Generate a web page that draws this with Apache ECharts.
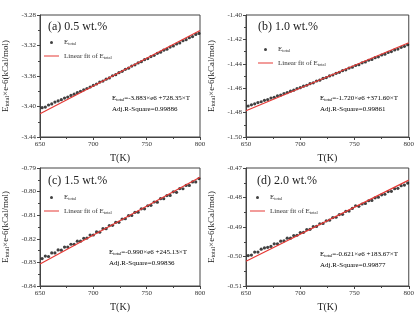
<!DOCTYPE html>
<html>
<head>
<meta charset="utf-8">
<script src="https://cdn.jsdelivr.net/npm/echarts@6/dist/echarts.min.js"></script>
<style>
    html, body { margin: 0; padding: 0; background: #fff; }
    #main { width: 417px; height: 313px; }
</style>
</head>
<body>
<div id="main"></div>
<script>
    // temperatures (K) shared by all four panels
    var temps = [652, 655, 658, 661, 664, 667, 670, 673, 676, 679, 682, 685, 688, 691, 694, 697, 700, 703, 706, 709,
        712, 715, 718, 721, 724, 727, 730, 733, 736, 739, 742, 745, 748, 751, 754, 757, 760, 763, 766, 769,
        772, 775, 778, 781, 784, 787, 790, 793, 796, 799];

    // E_total x e-6 (kCal/mol)
    var eA = [-3.4016, -3.4008, -3.3980, -3.3966, -3.3942, -3.3927, -3.3910, -3.3890, -3.3877, -3.3855,
        -3.3838, -3.3819, -3.3801, -3.3781, -3.3764, -3.3744, -3.3724, -3.3705, -3.3680, -3.3666,
        -3.3642, -3.3625, -3.3597, -3.3582, -3.3557, -3.3539, -3.3512, -3.3497, -3.3470, -3.3454,
        -3.3428, -3.3412, -3.3386, -3.3371, -3.3345, -3.3329, -3.3303, -3.3288, -3.3261, -3.3248,
        -3.3221, -3.3206, -3.3180, -3.3166, -3.3138, -3.3124, -3.3097, -3.3083, -3.3055, -3.3041];
    var eB = [-1.4746, -1.4736, -1.4728, -1.4718, -1.4711, -1.4699, -1.4693, -1.4681, -1.4674, -1.4662,
        -1.4656, -1.4644, -1.4636, -1.4624, -1.4616, -1.4604, -1.4596, -1.4583, -1.4576, -1.4563,
        -1.4556, -1.4541, -1.4534, -1.4520, -1.4513, -1.4499, -1.4492, -1.4478, -1.4470, -1.4456,
        -1.4449, -1.4435, -1.4428, -1.4414, -1.4407, -1.4392, -1.4385, -1.4371, -1.4364, -1.4350,
        -1.4343, -1.4328, -1.4321, -1.4307, -1.4300, -1.4286, -1.4279, -1.4265, -1.4257, -1.4243];
    var eC = [-0.8284, -0.8273, -0.8275, -0.8260, -0.8260, -0.8247, -0.8248, -0.8235, -0.8235, -0.8223,
        -0.8223, -0.8210, -0.8210, -0.8198, -0.8197, -0.8184, -0.8184, -0.8171, -0.8172, -0.8157,
        -0.8157, -0.8144, -0.8143, -0.8130, -0.8130, -0.8116, -0.8115, -0.8102, -0.8101, -0.8088,
        -0.8087, -0.8073, -0.8073, -0.8060, -0.8058, -0.8044, -0.8045, -0.8030, -0.8030, -0.8017,
        -0.8016, -0.8001, -0.8003, -0.7987, -0.7988, -0.7974, -0.7974, -0.7959, -0.7959, -0.7945];
    var eD = [-0.4997, -0.4995, -0.4985, -0.4985, -0.4975, -0.4971, -0.4969, -0.4966, -0.4957, -0.4957,
        -0.4948, -0.4947, -0.4938, -0.4938, -0.4929, -0.4928, -0.4919, -0.4918, -0.4909, -0.4908,
        -0.4899, -0.4898, -0.4889, -0.4888, -0.4879, -0.4877, -0.4868, -0.4867, -0.4858, -0.4857,
        -0.4847, -0.4846, -0.4837, -0.4828, -0.4830, -0.4822, -0.4820, -0.4811, -0.4810, -0.4801,
        -0.4799, -0.4791, -0.4789, -0.4780, -0.4779, -0.4770, -0.4769, -0.4760, -0.4758, -0.4751];

    // linear fit end points at 650 K and 800 K
    var fitT = [650, 800];
    var fitA = [-3.4096, -3.3003];
    var fitB = [-1.4785, -1.4227];
    var fitC = [-0.8307, -0.7939];
    var fitD = [-0.5016, -0.4741];

    var titles = ['(a) 0.5 wt.%', '(b) 1.0 wt.%', '(c) 1.5 wt.%', '(d) 2.0 wt.%'];
    var equations = ['-3.883×e6 +728.35×T', '-1.720×e6 +371.60×T', '-0.990×e6 +245.13×T', '-0.621×e6 +183.67×T'];
    var rSquares = ['0.99886', '0.99861', '0.99836', '0.99877'];
    var yMins = [-3.44, -1.50, -0.84, -0.51];
    var yMaxs = [-3.28, -1.40, -0.79, -0.47];
    var ySteps = [0.04, 0.02, 0.01, 0.01];

    var font = "'Liberation Serif', 'Times New Roman', serif";
    var red = '#e53935';
    var grids = [
        {left: 39, top: 15, width: 161, height: 122},
        {left: 246, top: 15, width: 165, height: 122},
        {left: 39, top: 168, width: 161, height: 123},
        {left: 246, top: 168, width: 165, height: 123}
    ];
    // text positions per panel: title, legend, equation
    var titlePos = [[43, 16], [253, 16], [43, 170], [252, 170]];
    var legendPos = [[44, 39], [258, 46], [44, 194], [250, 194]];
    var eqPos = [[112, 93], [320, 93], [109, 247], [320, 249]];

    var scatterData = [eA, eB, eC, eD];
    var fitData = [fitA, fitB, fitC, fitD];

    function pairs(xs, ys) {
        var out = [];
        for (var i = 0; i < xs.length; i++) {
            out.push([xs[i], ys[i]]);
        }
        return out;
    }

    var sub = {
        n: {fontFamily: font, fontSize: 7, color: '#333'},
        s: {fontFamily: font, fontSize: 4.5, color: '#333', padding: [0, 0, -3, 0]}
    };

    var option = {
        backgroundColor: '#fff',
        animation: false,
        title: [],
        legend: [],
        grid: [],
        xAxis: [],
        yAxis: [],
        series: [],
        graphic: []
    };

    for (var p = 0; p < 4; p++) {
        var g = grids[p];
        option.grid.push({
            left: g.left, top: g.top, width: g.width, height: g.height,
            show: true, borderColor: '#444', borderWidth: 1
        });
        option.title.push({
            text: titles[p], left: titlePos[p][0], top: titlePos[p][1],
            textStyle: {fontFamily: font, fontSize: 12, fontWeight: 'normal', color: '#222'}
        });
        option.xAxis.push({
            type: 'value', gridIndex: p, min: 650, max: 800, interval: 50,
            name: 'T(K)', nameLocation: 'middle', nameGap: 16,
            nameTextStyle: {fontFamily: font, fontSize: 10, color: '#222'},
            axisLine: {lineStyle: {color: '#444'}},
            axisTick: {length: 3, lineStyle: {color: '#444'}},
            minorTick: {show: true, splitNumber: 2, length: 2, lineStyle: {color: '#444'}},
            splitLine: {show: false},
            axisLabel: {fontFamily: font, fontSize: 7, color: '#333', margin: 4}
        });
        option.yAxis.push({
            type: 'value', gridIndex: p, min: yMins[p], max: yMaxs[p], interval: ySteps[p],
            name: '{n|E}{s|total}{n|×e-6(kCal/mol)}', nameLocation: 'middle', nameGap: 30,
            nameTextStyle: {
                fontFamily: font, fontSize: 9, color: '#222',
                rich: {
                    n: {fontFamily: font, fontSize: 9, color: '#222'},
                    s: {fontFamily: font, fontSize: 6, color: '#222', padding: [0, 0, -4, 0]}
                }
            },
            axisLine: {lineStyle: {color: '#444'}},
            axisTick: {length: 3, lineStyle: {color: '#444'}},
            minorTick: {show: true, splitNumber: 2, length: 2, lineStyle: {color: '#444'}},
            splitLine: {show: false},
            axisLabel: {
                fontFamily: font, fontSize: 7, color: '#333', margin: 4,
                formatter: function (v) { return v.toFixed(2); }
            }
        });
        option.series.push({
            name: 'Etotal', type: 'scatter', xAxisIndex: p, yAxisIndex: p,
            symbolSize: 3.2, itemStyle: {color: '#111'},
            data: pairs(temps, scatterData[p])
        });
        option.series.push({
            name: 'fit', type: 'line', xAxisIndex: p, yAxisIndex: p,
            symbol: 'none', itemStyle: {color: red}, lineStyle: {color: red, width: 1.2},
            data: pairs(fitT, fitData[p])
        });
        option.legend.push({
            orient: 'vertical', left: legendPos[p][0], top: legendPos[p][1],
            itemWidth: 15, itemHeight: 3, itemGap: 6, padding: 0,
            data: [
                {name: 'Etotal', icon: 'circle'},
                {name: 'fit', icon: 'path://M0,0 L30,0 L30,2 L0,2 Z', itemStyle: {color: red}}
            ],
            formatter: function (name) {
                return name === 'Etotal' ? '{n|E}{s|total}' : '{n|Linear fit of E}{s|total}';
            },
            textStyle: {fontFamily: font, fontSize: 7, color: '#333', rich: sub}
        });
        option.graphic.push({
            type: 'text', left: eqPos[p][0], top: eqPos[p][1],
            style: {
                text: '{n|E}{s|total}{n|=' + equations[p] + '}\n{n|Adj.R-Square=' + rSquares[p] + '}',
                lineHeight: 11,
                rich: {
                    n: {fontFamily: font, fontSize: 7, color: '#333', lineHeight: 11},
                    s: {fontFamily: font, fontSize: 4.5, color: '#333', lineHeight: 11, padding: [0, 0, -3, 0]}
                }
            }
        });
    }

    var myChart = echarts.init(document.getElementById('main'), null, {renderer: 'canvas'});
    myChart.setOption(option);
</script>
</body>
</html>
